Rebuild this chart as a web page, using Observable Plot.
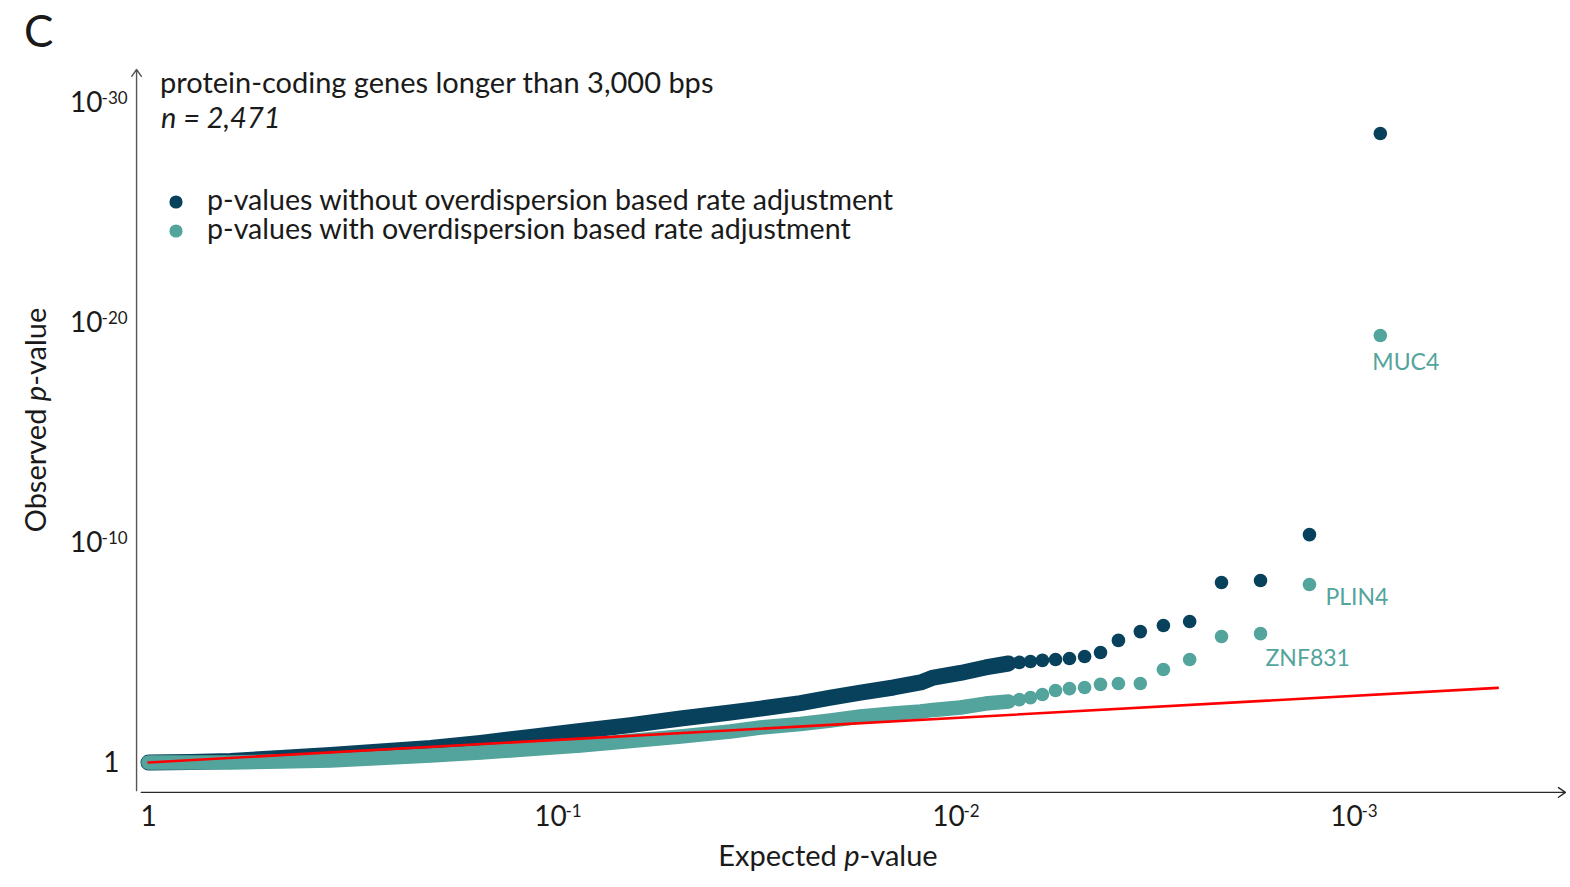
<!DOCTYPE html>
<html>
<head>
<meta charset="utf-8">
<script src="https://cdn.jsdelivr.net/npm/d3@7"></script>
<script src="https://cdn.jsdelivr.net/npm/@observablehq/plot@0.6"></script>
<style>
  html, body { margin: 0; padding: 0; background: #ffffff; }
  #chart { width: 1570px; height: 887px; overflow: hidden; }
</style>
</head>
<body>
<div id="chart"></div>
<script>
// ---------------- DATA ----------------
// -log10(expected p) and -log10(observed p); dense band sampled along its centre
const denseExpected = [0, 0.106, 0.206, 0.332, 0.457, 0.583, 0.709, 0.834, 0.960, 1.085, 1.211, 1.337, 1.462, 1.538, 1.638, 1.714, 1.789, 1.872, 1.940, 1.972, 2.040, 2.103, 2.161];
const denseWithout  = [0, 0.02, 0.07, 0.20, 0.34, 0.50, 0.66, 0.89, 1.16, 1.43, 1.70, 2.00, 2.27, 2.45, 2.70, 2.95, 3.18, 3.41, 3.64, 3.86, 4.07, 4.32, 4.50];
const denseWith     = [0, 0, 0, 0.05, 0.09, 0.20, 0.32, 0.45, 0.61, 0.77, 0.98, 1.18, 1.41, 1.59, 1.75, 1.91, 2.09, 2.23, 2.32, 2.39, 2.50, 2.68, 2.77];

// individually visible points in the tail
const tailExpected = [2.188, 2.216, 2.246, 2.279, 2.314, 2.352, 2.392, 2.437, 2.492, 2.550, 2.616, 2.696, 2.794, 2.917, 3.095];
const tailWithout  = [4.55, 4.59, 4.64, 4.68, 4.73, 4.82, 5.00, 5.55, 5.95, 6.23, 6.41, 8.18, 8.27, 10.36, 28.59];
const tailWith     = [2.86, 2.95, 3.09, 3.27, 3.36, 3.41, 3.55, 3.59, 3.59, 4.23, 4.68, 5.73, 5.86, 8.09, 19.41];
const tailGene     = ["", "", "", "", "", "", "", "", "", "", "", "", "ZNF831", "PLIN4", "MUC4"];

// reference line (expected = observed)
const refExpected = [0, 3.39];
const refObserved = [0, 3.39];

const seriesNames = [
  "p-values without overdispersion based rate adjustment",
  "p-values with overdispersion based rate adjustment"
];
const xTicks = [0, 1, 2, 3];
const yTicks = [0, 10, 20, 30];
const titleText = "protein-coding genes longer than 3,000 bps";
const subtitleText = "n = 2,471";
const panelLetter = "C";

// ---------------- STYLE / LAYOUT ----------------
const colDark = "#08415c";
const colTeal = "#53a49c";
const colRef = "#ff0000";
const FONT = "Lato, 'Open Sans', 'DejaVu Sans', sans-serif";
const W = 1570, H = 887;
const X0 = 148, KX = 398;   // pixel of x=0, px per decade
const Y0 = 762, KY = 22;    // pixel of y=0, px per decade
const xDom = [-0.03, 3.56], yDom = [-1.36, 31.5];
const mL = X0 + xDom[0] * KX, mR = W - (X0 + xDom[1] * KX);
const mT = Y0 - yDom[1] * KY, mB = H - (Y0 - yDom[0] * KY);
const labelOffsets = { MUC4: [-8, 27], PLIN4: [16, 13], ZNF831: [5, 25] };
const textSize = 29;
const legendSize = 28.6;

const toRows = (ex, ob) => ex.map((e, i) => ({ x: e, y: ob[i] }));
const denseA = toRows(denseExpected, denseWithout);
const denseB = toRows(denseExpected, denseWith);
const tailA = toRows(tailExpected, tailWithout);
const tailB = tailExpected.map((e, i) => ({ x: e, y: tailWith[i], gene: tailGene[i] }));
const refRows = toRows(refExpected, refObserved);

const axisStroke = "#2a2a2a";
const marks = [
  // dark series (drawn first, teal on top as in the reference)
  Plot.line(denseA, { x: "x", y: "y", stroke: colDark, strokeWidth: 16, strokeLinecap: "round", strokeLinejoin: "round" }),
  Plot.dot(denseA.concat(tailA), { x: "x", y: "y", r: 6.8, fill: colDark }),
  // teal series
  Plot.line(denseB, { x: "x", y: "y", stroke: colTeal, strokeWidth: 14.5, strokeLinecap: "round", strokeLinejoin: "round" }),
  Plot.dot(denseB.concat(tailB), { x: "x", y: "y", r: 6.8, fill: colTeal }),
  // reference line
  Plot.line(refRows, { x: "x", y: "y", stroke: colRef, strokeWidth: 2.6 }),
  // axes with arrow heads
  Plot.arrow([{ x1: xDom[0] + 0.012, y1: yDom[0], x2: xDom[1], y2: yDom[0] }],
    { x1: "x1", y1: "y1", x2: "x2", y2: "y2", stroke: axisStroke, strokeWidth: 1.4, headLength: 9, headAngle: 70 }),
  Plot.arrow([{ x1: xDom[0], y1: yDom[0] + 0.08, x2: xDom[0], y2: yDom[1] }],
    { x1: "x1", y1: "y1", x2: "x2", y2: "y2", stroke: "#555", strokeWidth: 1.4, headLength: 9, headAngle: 70 }),
  // x tick labels
  Plot.text(xTicks.filter(d => d === 0), { x: d => d, y: yDom[0], text: () => "1", dy: 25, fontSize: 28, textAnchor: "middle", lineAnchor: "middle", fill: "#1a1a1a" }),
  Plot.text(xTicks.filter(d => d > 0), { x: d => d, y: yDom[0], text: () => "10", dx: 4, dy: 25, fontSize: 28, textAnchor: "middle", lineAnchor: "middle", fill: "#1a1a1a" }),
  Plot.text(xTicks.filter(d => d > 0), { x: d => d, y: yDom[0], text: d => "-" + d, dx: 19, dy: 19, fontSize: 17, textAnchor: "start", lineAnchor: "middle", fill: "#1a1a1a" }),
  // y tick labels
  Plot.text(yTicks.filter(d => d === 0), { x: xDom[0], y: d => d, text: () => "1", dx: -17, dy: 1, fontSize: 28, textAnchor: "end", lineAnchor: "middle", fill: "#1a1a1a" }),
  Plot.text(yTicks.filter(d => d > 0), { x: xDom[0], y: d => d, text: () => "10", dx: -34, dy: 1, fontSize: 28, textAnchor: "end", lineAnchor: "middle", fill: "#1a1a1a" }),
  Plot.text(yTicks.filter(d => d > 0), { x: xDom[0], y: d => d, text: d => "-" + d, dx: -35, dy: -4, fontSize: 17, textAnchor: "start", lineAnchor: "middle", fill: "#1a1a1a" }),
  // gene labels
  ...tailB.filter(d => d.gene).map(d => Plot.text([d], {
    x: "x", y: "y", text: "gene", fill: colTeal, fontSize: 23, textAnchor: "start", lineAnchor: "middle",
    dx: labelOffsets[d.gene][0], dy: labelOffsets[d.gene][1]
  }))
];

const chart = Plot.plot({
  width: W, height: H,
  marginLeft: mL, marginRight: mR, marginTop: mT, marginBottom: mB,
  x: { type: "linear", domain: xDom, axis: null },
  y: { type: "linear", domain: yDom, axis: null },
  style: { fontFamily: FONT, background: "#ffffff", overflow: "visible" },
  marks
});

// ---------------- titles, legend, axis titles ----------------
const g = d3.select(chart).append("g").attr("font-family", FONT).attr("fill", "#1a1a1a");
function addText(x, y, parts, size, anchor = "start", rotate = 0) {
  const t = g.append("text").attr("x", x).attr("y", y).attr("font-size", size).attr("text-anchor", anchor);
  if (rotate) t.attr("transform", `rotate(${rotate},${x},${y})`);
  for (const [s, italic] of parts) {
    const sp = t.append("tspan").text(s);
    if (italic) sp.attr("font-style", "italic");
  }
  return t;
}
addText(24, 47, [[panelLetter, false]], 44);
addText(160, 93, [[titleText, false]], textSize);
addText(161, 128, [[subtitleText, true]], textSize);
const legendRows = [202, 231];
seriesNames.forEach((name, i) => {
  g.append("circle").attr("cx", 176).attr("cy", legendRows[i]).attr("r", 6.6).attr("fill", i === 0 ? colDark : colTeal);
  addText(207, legendRows[i] + 8, [[name, false]], legendSize);
});
addText(828, 866, [["Expected ", false], ["p", true], ["-value", false]], textSize, "middle");
addText(46, 420, [["Observed ", false], ["p", true], ["-value", false]], textSize, "middle", -90);

document.getElementById("chart").appendChild(chart);
</script>
</body>
</html>
